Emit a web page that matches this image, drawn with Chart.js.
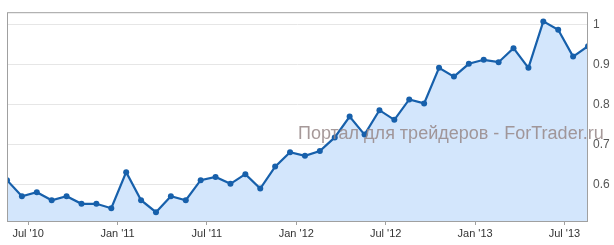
<!DOCTYPE html>
<html>
<head>
<meta charset="utf-8">
<script src="https://cdn.jsdelivr.net/npm/chart.js@4"></script>
<style>
  html, body { margin: 0; padding: 0; background: #fff; }
  #wrap { width: 614px; height: 245px; }
</style>
</head>
<body>
<div id="wrap"><canvas id="price-chart" width="614" height="245"></canvas></div>
<script>
// monthly readings, May 2010 .. Aug 2013
const months = [
  'May 2010', 'Jun 2010', 'Jul 2010', 'Aug 2010', 'Sep 2010', 'Oct 2010', 'Nov 2010', 'Dec 2010',
  'Jan 2011', 'Feb 2011', 'Mar 2011', 'Apr 2011', 'May 2011', 'Jun 2011', 'Jul 2011', 'Aug 2011',
  'Sep 2011', 'Oct 2011', 'Nov 2011', 'Dec 2011', 'Jan 2012', 'Feb 2012', 'Mar 2012', 'Apr 2012',
  'May 2012', 'Jun 2012', 'Jul 2012', 'Aug 2012', 'Sep 2012', 'Oct 2012', 'Nov 2012', 'Dec 2012',
  'Jan 2013', 'Feb 2013', 'Mar 2013', 'Apr 2013', 'May 2013', 'Jun 2013', 'Jul 2013', 'Aug 2013'
];
const values = [
  0.610, 0.570, 0.580, 0.560, 0.570, 0.551, 0.551, 0.540,
  0.630, 0.560, 0.530, 0.570, 0.560, 0.610, 0.618, 0.601,
  0.625, 0.589, 0.644, 0.680, 0.671, 0.683, 0.717, 0.769,
  0.724, 0.785, 0.761, 0.812, 0.802, 0.891, 0.869, 0.901,
  0.911, 0.905, 0.940, 0.891, 1.007, 0.986, 0.919, 0.945
];
// x ticks sit at the start of the month (points are mid-month)
const xTickLabels = ["Jul '10", "Jan '11", "Jul '11", "Jan '12", "Jul '12", "Jan '13", "Jul '13"];
const xTickAt = [1.42, 7.42, 13.42, 19.42, 25.42, 31.42, 37.42];
const yTicks = [0.6, 0.7, 0.8, 0.9, 1];
const watermark = 'Портал для трейдеров - ForTrader.ru';

const FONT = '"Liberation Sans", Arial, sans-serif';

const frame = {
  id: 'frame',
  afterDraw(chart) {
    const { ctx, chartArea: a } = chart;
    ctx.save();
    ctx.strokeStyle = '#a0a0a0';
    ctx.lineWidth = 1;
    ctx.strokeRect(a.left + 0.5, a.top + 0.5, a.right - a.left - 1, a.bottom - a.top);
    ctx.font = '18px ' + FONT;
    ctx.fillStyle = 'rgba(150,135,135,0.85)';
    ctx.textBaseline = 'alphabetic';
    ctx.fillText(watermark, 298, 139);
    ctx.restore();
  }
};

const ctx = document.getElementById('price-chart').getContext('2d');
new Chart(ctx, {
  type: 'line',
  data: {
    datasets: [{
      label: 'value',
      data: values.map((v, i) => ({ x: i, y: v })),
      borderColor: '#1760ab',
      backgroundColor: '#d3e6fc',
      borderWidth: 2.2,
      pointRadius: 3,
      pointBackgroundColor: '#1760ab',
      pointBorderWidth: 0,
      fill: 'start',
      tension: 0
    }]
  },
  options: {
    responsive: false,
    animation: false,
    layout: { padding: { left: 7, top: 6, right: 0, bottom: 0 } },
    plugins: { legend: { display: false }, tooltip: { enabled: false } },
    scales: {
      x: {
        type: 'linear',
        min: 0,
        max: months.length - 1,
        afterBuildTicks: s => { s.ticks = xTickAt.map(v => ({ value: v })); },
        afterFit: s => { s.height = 24; },
        grid: { drawOnChartArea: false, tickLength: 4, color: '#a0a0a0' },
        border: { display: false },
        ticks: {
          autoSkip: false,
          maxRotation: 0,
          padding: 2,
          color: '#333',
          font: { family: FONT, size: 11 },
          callback: (v, i) => xTickLabels[i]
        }
      },
      y: {
        position: 'right',
        min: 0.508,
        max: 1.03,
        afterBuildTicks: s => { s.ticks = yTicks.map(v => ({ value: v })); },
        afterFit: s => { s.width = 26; },
        grid: { color: '#e6e6e6', drawTicks: false },
        border: { display: false },
        ticks: {
          padding: 5,
          color: '#555',
          font: { family: FONT, size: 12 },
          callback: v => String(v)
        }
      }
    }
  },
  plugins: [frame]
});
</script>
</body>
</html>
